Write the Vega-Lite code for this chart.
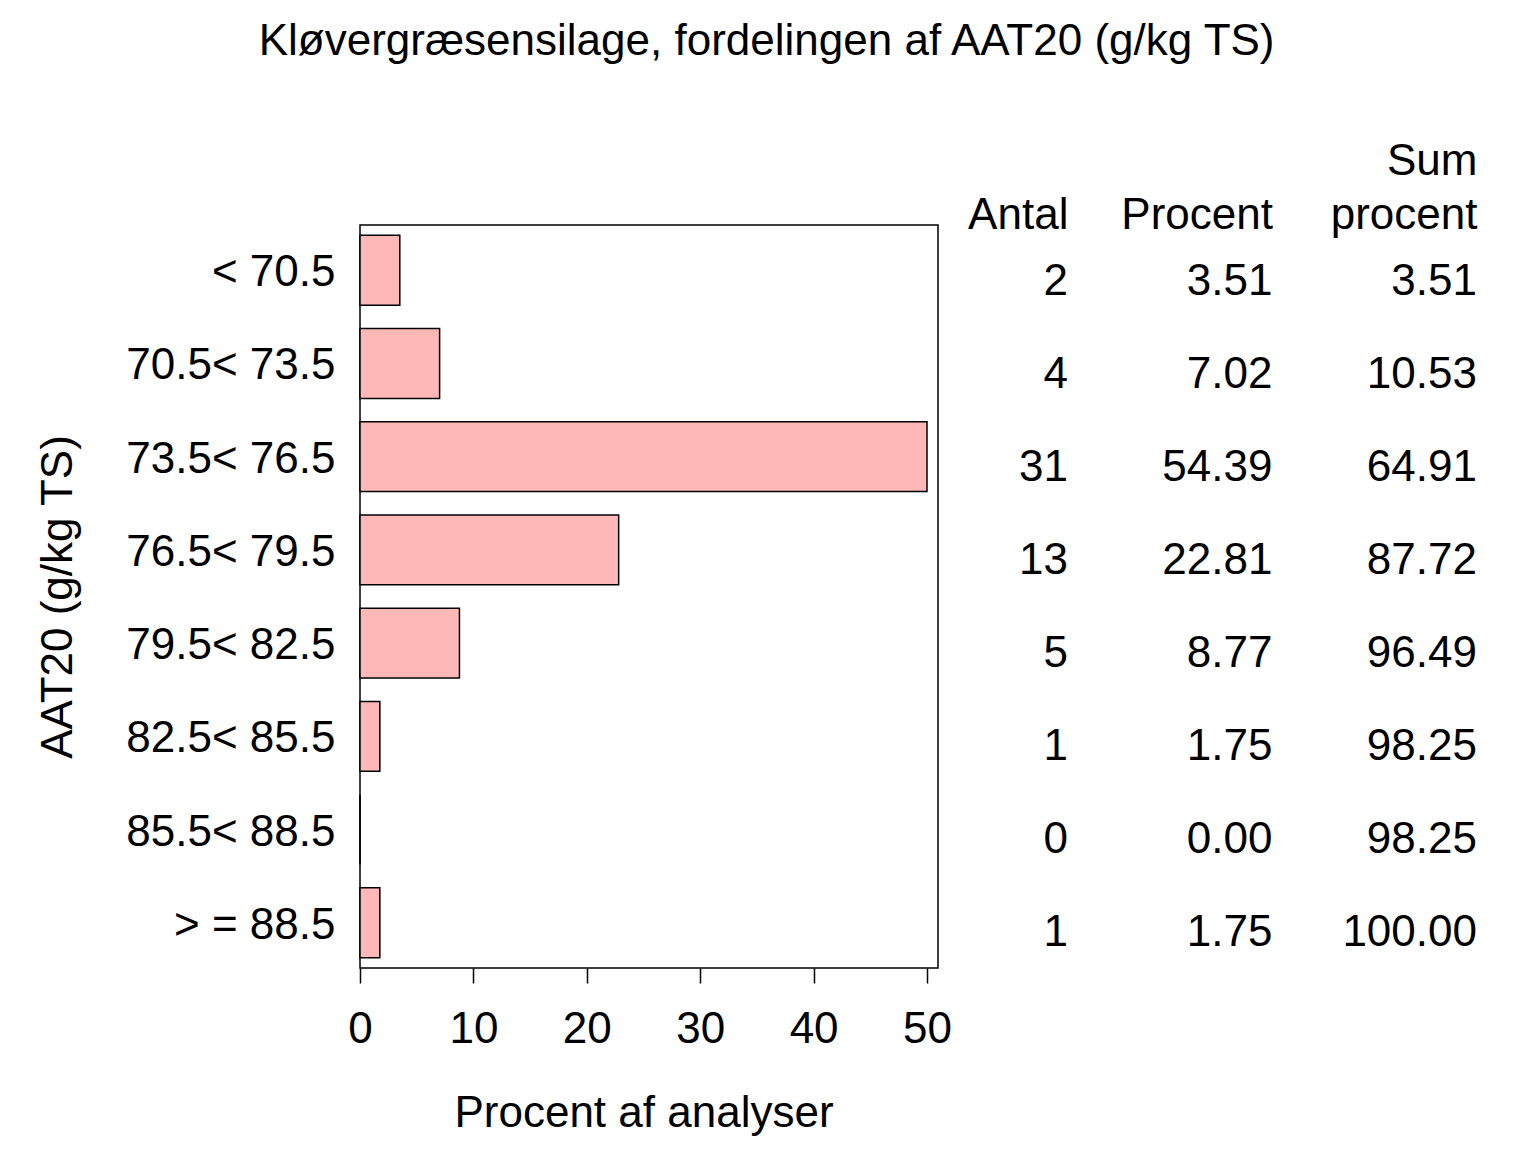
{
  "$schema": "https://vega.github.io/schema/vega-lite/v6.json",
  "description": "Kløvergræsensilage, fordeling af AAT20",
  "background": "white",
  "padding": {"left": 35, "top": 20, "right": 0, "bottom": 0},
  "title": {
    "text": "Kløvergræsensilage, fordelingen af AAT20 (g/kg TS)",
    "fontSize": 44,
    "fontWeight": "normal",
    "color": "black",
    "anchor": "middle",
    "dx": 4,
    "offset": 75
  },
  "config": {
    "font": "Liberation Sans",
    "view": {"stroke": "black", "strokeWidth": 1.5},
    "axis": {"labelColor": "black", "titleColor": "black", "labelFontSize": 44, "titleFontSize": 44, "titleFontWeight": "normal", "grid": false}
  },
  "data": {
    "values": [
      {"AAT20": "< 70.5", "Antal": 2, "Procent": 3.51, "Sum": 3.51},
      {"AAT20": "70.5< 73.5", "Antal": 4, "Procent": 7.02, "Sum": 10.53},
      {"AAT20": "73.5< 76.5", "Antal": 31, "Procent": 54.39, "Sum": 64.91},
      {"AAT20": "76.5< 79.5", "Antal": 13, "Procent": 22.81, "Sum": 87.72},
      {"AAT20": "79.5< 82.5", "Antal": 5, "Procent": 8.77, "Sum": 96.49},
      {"AAT20": "82.5< 85.5", "Antal": 1, "Procent": 1.75, "Sum": 98.25},
      {"AAT20": "85.5< 88.5", "Antal": 0, "Procent": 0.0, "Sum": 98.25},
      {"AAT20": "> = 88.5", "Antal": 1, "Procent": 1.75, "Sum": 100.0}
    ]
  },
  "bounds": "flush",
  "spacing": 10,
  "hconcat": [
    {
      "width": 578,
      "height": 743,
      "mark": {"type": "bar", "fill": "#ffb8b8", "stroke": "black", "strokeWidth": 1.5},
      "encoding": {
        "y": {
          "field": "AAT20",
          "type": "nominal",
          "sort": null,
          "scale": {"paddingInner": 0.25, "paddingOuter": 0.11},
          "title": "AAT20 (g/kg TS)",
          "axis": {"ticks": false, "tickSize": 0, "domain": false, "labelPadding": 25, "labelOffset": 3, "titlePadding": 80, "labelLimit": 400}
        },
        "x": {
          "field": "Procent",
          "type": "quantitative",
          "scale": {"domain": [0, 50], "range": [0, 567], "clamp": true, "nice": false, "zero": true},
          "title": "Procent af analyser",
          "axis": {"values": [0, 10, 20, 30, 40, 50], "domain": false, "tickSize": 15, "tickColor": "black", "tickWidth": 1.5, "labelPadding": 24, "labelFlush": false, "labelOverlap": false, "titlePadding": 40}
        }
      }
    },
    {
      "width": 542,
      "height": 743,
      "view": {"stroke": null},
      "encoding": {
        "y": {
          "field": "AAT20",
          "type": "nominal",
          "sort": null,
          "scale": {"paddingInner": 0.25, "paddingOuter": 0.11},
          "axis": null
        }
      },
      "layer": [
        {
          "mark": {"type": "text", "align": "right", "fontSize": 44, "dy": 11, "color": "black"},
          "encoding": {
            "x": {
              "datum": "Antal",
              "type": "nominal",
              "scale": {"type": "point", "domain": ["Antal", "Procent", "Sum procent"], "padding": 0.325, "align": 0.902},
              "title": null,
              "axis": {"orient": "top", "ticks": false, "tickSize": 0, "domain": false, "labelAngle": 0, "labelAlign": "right", "labelBaseline": "bottom", "labelPadding": 42, "labelLineHeight": 54, "labelExpr": "datum.label == 'Sum procent' ? ['Sum', 'procent'] : ['', datum.label]"}
            },
            "text": {"field": "Antal", "format": "d"}
          }
        },
        {
          "mark": {"type": "text", "align": "right", "fontSize": 44, "dy": 11, "color": "black"},
          "encoding": {
            "x": {"datum": "Procent", "type": "nominal"},
            "text": {"field": "Procent", "format": ".2f"}
          }
        },
        {
          "mark": {"type": "text", "align": "right", "fontSize": 44, "dy": 11, "color": "black"},
          "encoding": {
            "x": {"datum": "Sum procent", "type": "nominal"},
            "text": {"field": "Sum", "format": ".2f"}
          }
        }
      ]
    }
  ]
}
